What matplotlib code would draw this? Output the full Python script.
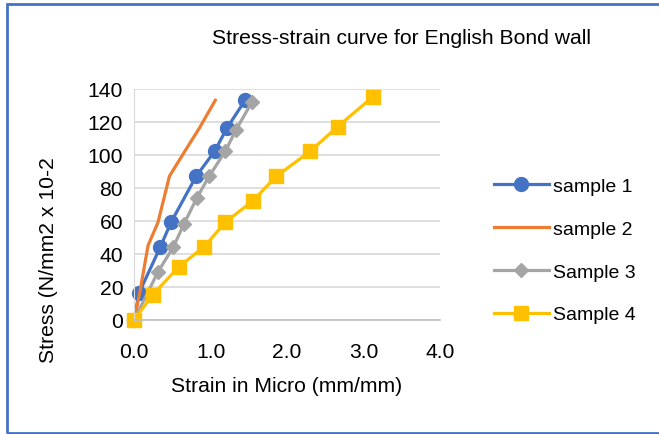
import matplotlib
matplotlib.use('Agg')
import matplotlib.pyplot as plt
from matplotlib.patches import Rectangle

plt.rcParams['font.family'] = ['Liberation Sans', 'DejaVu Sans']

# Strain (micro, mm/mm) and stress (N/mm2 x 10-2) for each sample
strain_1 = [0.0, 0.06, 0.34, 0.48, 0.81, 1.05, 1.21, 1.45]
stress_1 = [0, 16, 44, 59, 87, 102, 116, 133]

strain_2 = [0.0, 0.07, 0.18, 0.31, 0.46, 0.66, 0.85, 1.06]
stress_2 = [0, 16, 45, 59, 87, 102, 116, 133]

strain_3 = [0.0, 0.31, 0.51, 0.65, 0.82, 0.98, 1.19, 1.33, 1.54]
stress_3 = [0, 29, 44, 58, 74, 87, 102, 115, 132]

strain_4 = [0.0, 0.24, 0.58, 0.91, 1.19, 1.55, 1.86, 2.30, 2.66, 3.12]
stress_4 = [0, 15, 32, 44, 59, 72, 87, 102, 117, 135]

FS = 15.2

fig = plt.figure(figsize=(6.59, 4.35), dpi=100)
ax = fig.add_axes([0.2038, 0.2628, 0.4639, 0.5310])

ax.plot(strain_1, stress_1, color='#4472C4', lw=2.3, marker='o', ms=10, label='sample 1', clip_on=False)
ax.plot(strain_2, stress_2, color='#ED7D31', lw=2.3, label='sample 2', clip_on=False)
ax.plot(strain_3, stress_3, color='#A5A5A5', lw=2.3, marker='D', ms=7, label='Sample 3', clip_on=False)
ax.plot(strain_4, stress_4, color='#FFC000', lw=2.3, marker='s', ms=9.5, label='Sample 4', clip_on=False)

ax.set_xlim(0, 4)
ax.set_ylim(0, 140)
ax.set_xticks([0, 1, 2, 3, 4])
ax.set_xticklabels(['0.0', '1.0', '2.0', '3.0', '4.0'])
ax.set_yticks(range(0, 141, 20))
ax.tick_params(length=0, labelsize=FS)
ax.tick_params(axis='y', pad=8)
ax.tick_params(axis='x', pad=16)
ax.grid(axis='y', color='#D9D9D9', lw=1.2)
ax.set_axisbelow(True)
for side in ['top', 'right']:
    ax.spines[side].set_visible(False)
ax.spines['left'].set_color('#D9D9D9')
ax.spines['bottom'].set_color('#BFBFBF')
ax.spines['bottom'].set_linewidth(1.2)

fig.text(287 / 659, 1 - 387 / 435, 'Strain in Micro (mm/mm)', fontsize=FS, ha='center', va='center')
fig.text(49 / 659, 1 - 260 / 435, 'Stress (N/mm2 x 10-2', fontsize=FS, ha='center', va='center',
         rotation=90)
fig.text(401 / 659, 1 - 38 / 435, 'Stress-strain curve for English Bond wall', fontsize=FS,
         ha='center', va='center')

ax.legend(loc='upper left', bbox_to_anchor=(1.177, 0.617), frameon=False, fontsize=14,
          borderpad=0, borderaxespad=0, handlelength=2.8, labelspacing=1.3, handletextpad=0.25)

# blue frame round the chart
fig.patches.append(Rectangle((7 / 659, 1 / 435), 1.2, 429 / 435, transform=fig.transFigure,
                             fill=False, edgecolor='#4472C4', lw=2))

fig.savefig('out.png', dpi=100)
